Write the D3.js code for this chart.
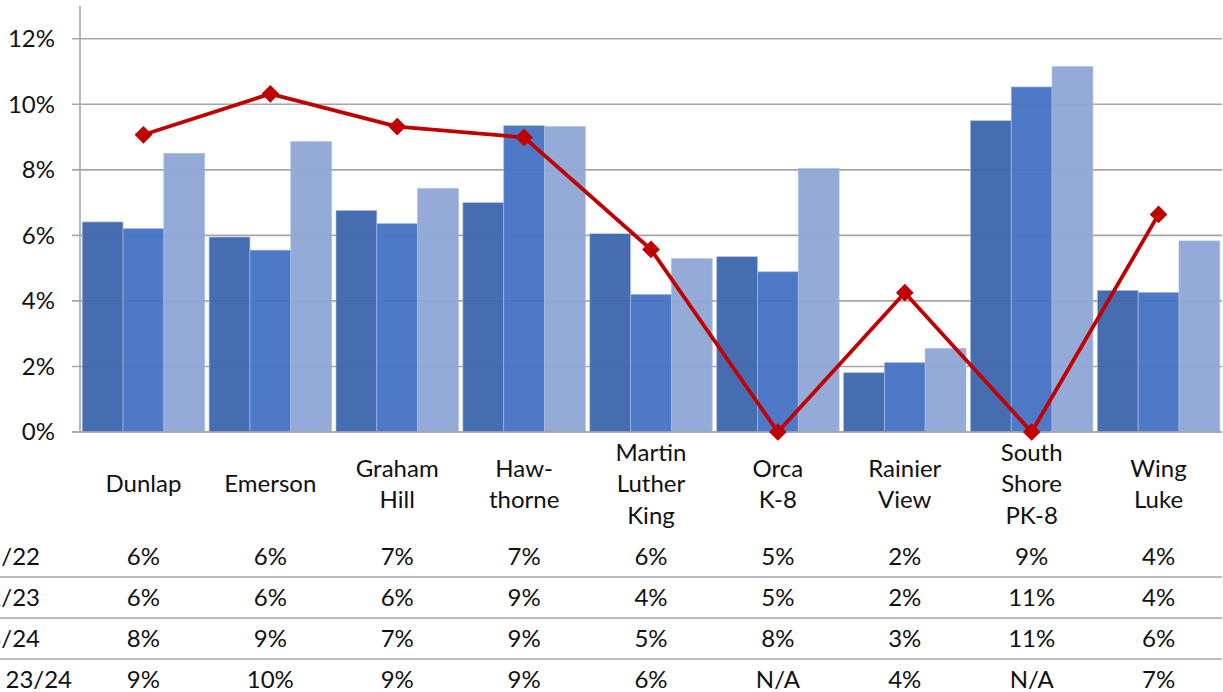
<!DOCTYPE html>
<html><head><meta charset="utf-8">
<script src="https://cdn.jsdelivr.net/npm/d3@7"></script>
<style>
html,body{margin:0;padding:0;background:#fff;overflow:hidden}
svg{display:block}
text{font-family:Lato,"Open Sans",sans-serif;fill:#111}
</style></head><body>
<svg id="c" width="1223" height="692"></svg>
<script>
// ---- data ----
const categories = ["Dunlap","Emerson","Graham\nHill","Haw-\nthorne","Martin\nLuther\nKing","Orca\nK-8","Rainier\nView","South\nShore\nPK-8","Wing\nLuke"];
const seriesNames = ["2021/22","2022/23","2023/24","Survey 23/24"];
const s2122 = [6.41,5.95,6.76,7.00,6.05,5.35,1.81,9.50,4.32];
const s2223 = [6.21,5.55,6.36,9.35,4.20,4.89,2.12,10.53,4.26];
const s2324 = [8.50,8.86,7.43,9.32,5.29,8.04,2.55,11.15,5.83];
const survey = [9.07,10.32,9.32,8.99,5.57,0,4.25,0,6.64];
const tableRows = [
  ["6%","6%","7%","7%","6%","5%","2%","9%","4%"],
  ["6%","6%","6%","9%","4%","5%","2%","11%","4%"],
  ["8%","9%","7%","9%","5%","8%","3%","11%","6%"],
  ["9%","10%","9%","9%","6%","N/A","4%","N/A","7%"]
];
const yTicks = [0,2,4,6,8,10,12];
const barColors = ["#3D65AD","#4472C4","#8FA6D5"];
const lineColor = "#C00000";

// ---- layout ----
const svg = d3.select("#c");
const pLeft = 80, pRight = 1222, pTop = 6, pBase = 432;
const FS = 24;

const x = d3.scaleBand().domain(d3.range(categories.length)).range([pLeft, pRight]).paddingInner(0.035).paddingOuter(0.0175);
const xs = d3.scaleBand().domain([0,1,2]).range([0, x.bandwidth()]).padding(0);
const y = d3.scaleLinear().domain([0,13]).range([pBase, pTop]);

// gridlines + ticks
svg.append("g").selectAll("line").data(yTicks).join("line")
  .attr("x1", pLeft-8).attr("x2", pRight)
  .attr("y1", d=>y(d)).attr("y2", d=>y(d))
  .attr("stroke","#A6A6A6").attr("stroke-width",1.6);
svg.append("g").selectAll("text").data(yTicks).join("text")
  .attr("x", 55).attr("y", d=>y(d)).attr("dy","0.35em")
  .attr("text-anchor","end").style("font-size",FS+"px")
  .text(d=>d+"%");

// bars
const barSeries = [s2122, s2223, s2324];
barSeries.forEach((s, si) => {
  svg.append("g").selectAll("rect").data(s).join("rect")
    .attr("x", (d,i)=>x(i)+xs(si))
    .attr("width", xs.bandwidth())
    .attr("y", d=>y(d))
    .attr("height", d=>y(0)-y(d))
    .attr("fill", barColors[si]).attr("fill-opacity",0.95)
    .attr("stroke","#A9BCE3").attr("stroke-width",0.8).attr("stroke-opacity",0.8);
});

// axis lines
svg.append("line").attr("x1",pLeft).attr("x2",pLeft).attr("y1",pTop).attr("y2",pBase)
  .attr("stroke","#A6A6A6").attr("stroke-width",1.6);
svg.append("line").attr("x1",pLeft-8).attr("x2",pRight).attr("y1",pBase).attr("y2",pBase)
  .attr("stroke","#A6A6A6").attr("stroke-width",1.6);

// line series
const cx = i => x(i) + x.bandwidth()/2;
svg.append("path").datum(survey)
  .attr("d", d3.line().x((d,i)=>cx(i)).y(d=>y(d)))
  .attr("fill","none").attr("stroke",lineColor).attr("stroke-width",3.8).attr("stroke-linejoin","round");
svg.append("g").selectAll("path").data(survey).join("path")
  .attr("d", d3.symbol(d3.symbolDiamond2, 200))
  .attr("transform",(d,i)=>`translate(${cx(i)},${y(d)})`)
  .attr("fill",lineColor);

// category labels
const lh = 31.5, labelMid = 484;
categories.forEach((c,i)=>{
  const lines = c.split("\n");
  const t = svg.append("text").attr("text-anchor","middle").style("font-size",FS+"px");
  lines.forEach((l,k)=>{
    t.append("tspan").attr("x",cx(i))
      .attr("y", labelMid + (k-(lines.length-1)/2)*lh).attr("dy","0.35em").text(l);
  });
});

// data table
const rowY = [557, 598, 639, 680];
const rowEnd = [40, 40, 40, 72];
[577, 618, 659].forEach(ly=>{
  svg.append("line").attr("x1",0).attr("x2",pRight).attr("y1",ly).attr("y2",ly)
    .attr("stroke","#A6A6A6").attr("stroke-width",1.6);
});
tableRows.forEach((row,r)=>{
  svg.append("text").attr("x",rowEnd[r]).attr("y",rowY[r]).attr("dy","0.35em")
    .attr("text-anchor","end").style("font-size",FS+"px").text(seriesNames[r]);
  svg.append("g").selectAll("text").data(row).join("text")
    .attr("x",(d,i)=>cx(i)).attr("y",rowY[r]).attr("dy","0.35em")
    .attr("text-anchor","middle").style("font-size",FS+"px").text(d=>d);
});
</script></body></html>
